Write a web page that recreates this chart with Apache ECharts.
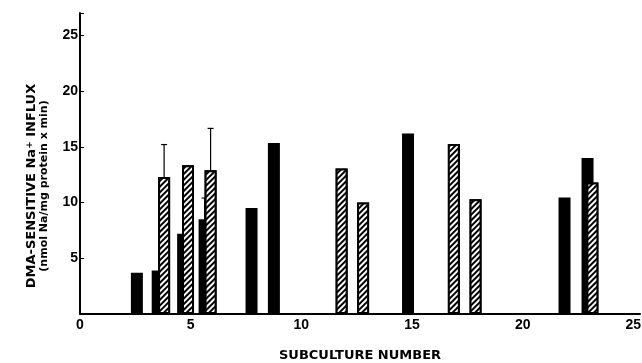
<!DOCTYPE html>
<html>
<head>
<meta charset="utf-8">
<script src="https://cdn.jsdelivr.net/npm/echarts@6/dist/echarts.min.js"></script>
<style>
  html, body { margin: 0; padding: 0; background: #fff; }
  #main { width: 642px; height: 363px; }
</style>
</head>
<body>
<div id="main"></div>
<script>
// solid bars (subculture position, influx)
var solidX = [2.57, 3.51, 4.66, 5.63, 7.75, 8.76, 14.82, 21.89, 22.93];
var solidY = [3.7, 3.9, 7.2, 8.5, 9.5, 15.35, 16.2, 10.45, 14.0];
// hatched bars
var hatchX = [3.80, 4.88, 5.90, 11.82, 12.79, 16.89, 17.87, 23.15];
var hatchY = [12.3, 13.35, 12.9, 13.05, 10.0, 15.25, 10.3, 11.8];
// error bars: x, bar top, error top
var errX = [3.80, 5.90, 5.63];
var errBase = [12.3, 12.9, 8.5];
var errTop = [15.2, 16.65, 10.4];
var xTicks = [0, 5, 10, 15, 20, 25];
var yTicks = [5, 10, 15, 20, 25];

var font = 'Liberation Sans';
var titleFont = 'DejaVu Sans';
var barWidth = 12;

function pairs(xs, ys) {
    return xs.map(function (x, i) { return [x, ys[i]]; });
}

var errData = errX.map(function (x, i) { return [x, errBase[i], errTop[i]]; });

var chart = echarts.init(document.getElementById('main'));
var option = {
    animation: false,
    backgroundColor: '#fff',
    grid: {
        left: 80,
        right: 2,
        top: 13,
        bottom: 49,
        containLabel: false,
        outerBoundsMode: 'none'
    },
    // y title sits lower than the axis middle in the original
    graphic: [
        {
            type: 'text',
            x: 38,
            y: 186,
            rotation: Math.PI / 2,
            style: {
                text: '{a|DMA-SENSITIVE Na}{sup|+}{a| INFLUX}\n{b|(nmol Na/mg protein x min)}',
                align: 'center',
                verticalAlign: 'middle',
                fill: '#000',
                rich: {
                    a: { fontFamily: titleFont, fontWeight: 'bold', fontSize: 13, fill: '#000', lineHeight: 13 },
                    sup: { fontFamily: titleFont, fontWeight: 'bold', fontSize: 9, fill: '#000', verticalAlign: 'top', lineHeight: 13, padding: [0, 0, 6, 0] },
                    b: { fontFamily: titleFont, fontWeight: 'bold', fontSize: 11, fill: '#000', lineHeight: 13 }
                }
            }
        }
    ],
    xAxis: {
        type: 'value',
        min: 0,
        max: 25.3,
        interval: 5,
        name: 'SUBCULTURE NUMBER',
        nameLocation: 'middle',
        nameGap: 35,
        nameTextStyle: {
            fontFamily: titleFont,
            fontWeight: 'bold',
            fontSize: 13,
            color: '#000'
        },
        axisLine: { show: true, lineStyle: { color: '#000', width: 2 } },
        axisTick: { show: false },
        splitLine: { show: false },
        axisLabel: {
            margin: 4,
            fontFamily: font,
            fontWeight: 'bold',
            fontSize: 14,
            color: '#000',
            formatter: function (v) {
                return xTicks.indexOf(v) >= 0 ? String(v) : '';
            }
        }
    },
    yAxis: {
        type: 'value',
        min: 0,
        max: 27,
        interval: 5,
        axisLine: { show: true, lineStyle: { color: '#000', width: 2 } },
        axisTick: { show: true, inside: true, length: 4, lineStyle: { color: '#000', width: 1 } },
        splitLine: { show: false },
        axisLabel: {
            margin: 2,
            fontFamily: font,
            fontWeight: 'bold',
            fontSize: 14,
            color: '#000',
            formatter: function (v) {
                return yTicks.indexOf(v) >= 0 ? String(v) : '';
            }
        }
    },
    series: [
        {
            name: 'solid',
            type: 'bar',
            barWidth: barWidth,
            barGap: '-100%',
            z: 2,
            itemStyle: { color: '#000' },
            data: pairs(solidX, solidY)
        },
        {
            name: 'errors',
            type: 'custom',
            z: 3,
            renderItem: function (params, api) {
                var base = api.coord([api.value(0), api.value(1)]);
                var top = api.coord([api.value(0), api.value(2)]);
                return {
                    type: 'group',
                    children: [
                        {
                            type: 'line',
                            shape: { x1: base[0], y1: base[1], x2: top[0], y2: top[1] },
                            style: { stroke: '#000', lineWidth: 1.2 }
                        },
                        {
                            type: 'line',
                            shape: { x1: top[0] - 3, y1: top[1], x2: top[0] + 3, y2: top[1] },
                            style: { stroke: '#000', lineWidth: 1.2 }
                        }
                    ]
                };
            },
            data: errData
        },
        {
            name: 'hatched',
            type: 'bar',
            barWidth: barWidth,
            barGap: '-100%',
            z: 4,
            itemStyle: {
                color: '#fff',
                borderColor: '#000',
                borderWidth: 2,
                decal: {
                    symbol: 'rect',
                    color: '#000',
                    backgroundColor: '#fff',
                    dashArrayX: [1, 0],
                    dashArrayY: [2, 2],
                    rotation: -Math.PI / 4
                }
            },
            data: pairs(hatchX, hatchY)
        }
    ]
};
chart.setOption(option);
</script>
</body>
</html>
